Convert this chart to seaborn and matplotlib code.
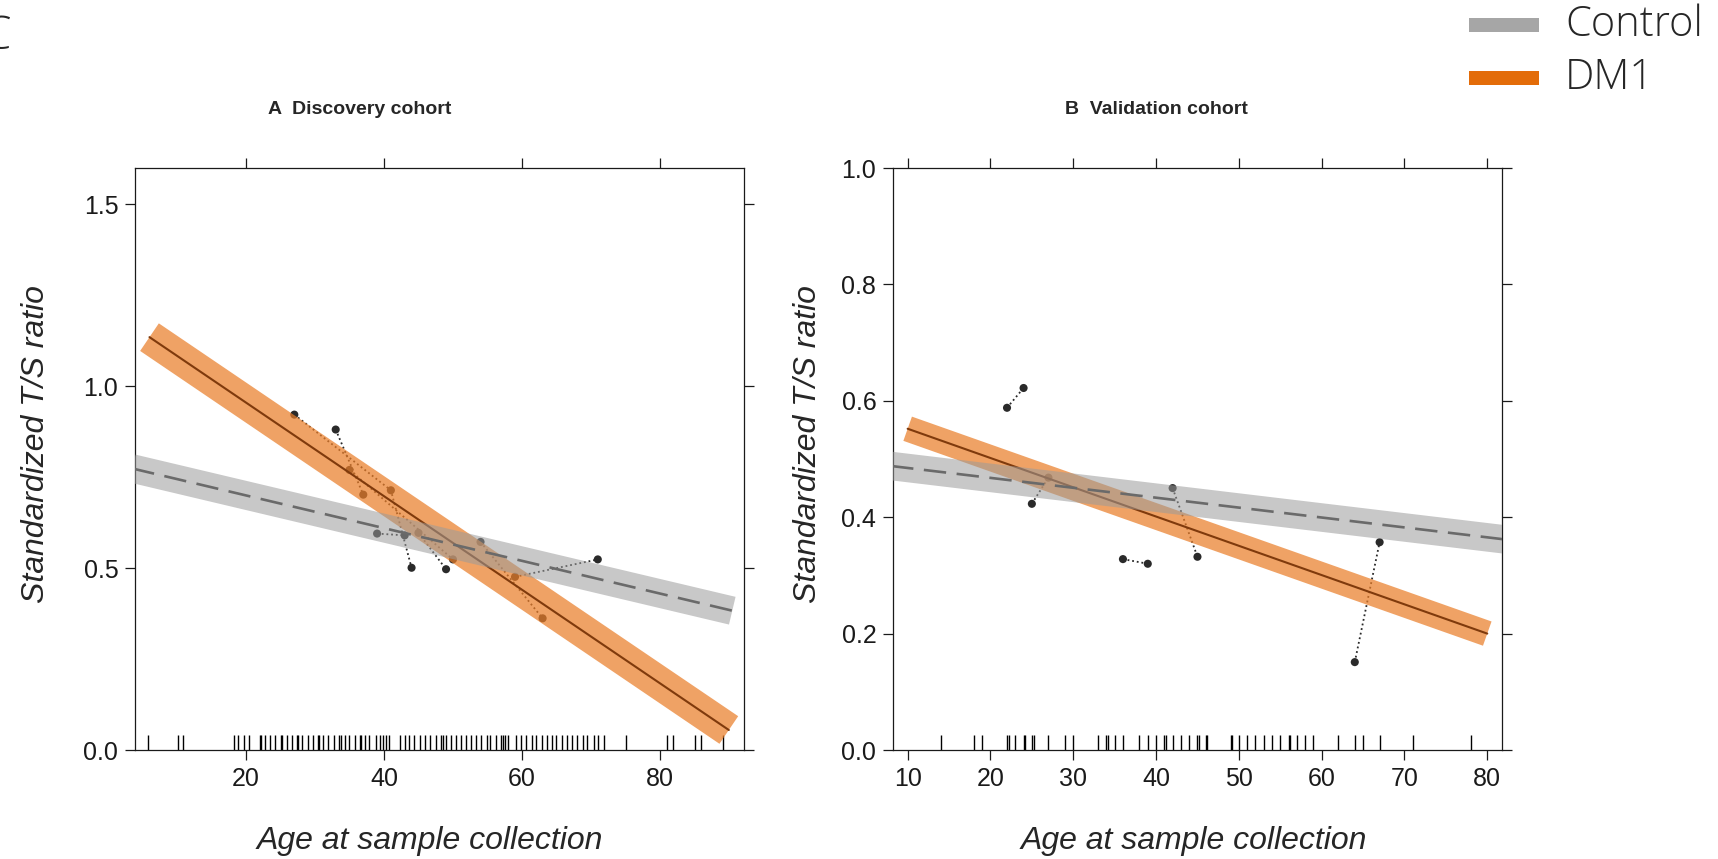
import matplotlib.pyplot as plt
import seaborn as sns
from matplotlib.patches import Rectangle

# ---------------- data ----------------
# Panel A - discovery cohort
fit_age_a = [6, 90]
dm1_fit_a = [1.135, 0.055]
ctrl_age_a = [3.5, 90.5]
ctrl_fit_a = [0.774, 0.383]

# repeated samples of the same person share a "pair" id
pt_age_a = [27, 41, 44, 33, 37, 35, 50, 39, 43, 45, 49, 54, 63, 59, 71]
pt_ts_a = [0.922, 0.714, 0.501, 0.881, 0.702, 0.770, 0.524, 0.595, 0.590, 0.597,
           0.497, 0.572, 0.362, 0.476, 0.524]
pt_pair_a = [1, 1, 1, 2, 2, 3, 3, 4, 4, 5, 5, 6, 6, 7, 7]

rug_a = [5.8, 10.2, 10.9, 18.2, 18.9, 19.7, 20.4, 22.0, 22.2, 22.7, 23.5, 24.2, 25.0,
         25.2, 25.9, 26.6, 27.4, 27.6, 28.1, 29.0, 29.7, 30.4, 30.6, 31.1, 31.9, 32.7,
         33.5, 33.7, 34.3, 35.0, 35.8, 36.5, 36.7, 37.2, 37.9, 38.8, 39.4, 39.8, 40.3,
         40.8, 42.3, 43.0, 43.7, 44.4, 45.2, 46.0, 46.7, 47.5, 48.2, 48.5, 49.0, 49.7,
         50.4, 51.2, 51.9, 52.6, 53.3, 54.0, 54.9, 55.4, 56.2, 56.9, 57.3, 57.6, 58.0,
         59.1, 59.9, 60.6, 61.4, 62.1, 62.9, 63.6, 64.3, 65.0, 65.8, 66.5, 67.3, 68.0,
         68.8, 69.5, 70.4, 71.1, 71.9, 75.1, 81.0, 81.9, 85.1, 86.0, 89.2]

# Panel B - validation cohort
fit_age_b = [10, 80]
dm1_fit_b = [0.552, 0.200]
ctrl_age_b = [8, 82]
ctrl_fit_b = [0.488, 0.362]

pt_age_b = [22, 24, 25, 27, 36, 39, 42, 45, 64, 67]
pt_ts_b = [0.588, 0.622, 0.423, 0.468, 0.328, 0.320, 0.450, 0.332, 0.151, 0.357]
pt_pair_b = [1, 1, 2, 2, 3, 3, 4, 4, 5, 5]

rug_b = [14, 18, 19, 22, 22.2, 23, 24, 24.2, 25, 25.2, 27, 29, 30, 33, 34, 34.2, 35, 36,
         38, 39, 40, 41, 41.2, 42, 43, 44, 45, 45.2, 46, 46.2, 49, 49.2, 50, 51, 52, 53,
         54, 55, 56, 56.2, 57, 58, 59, 62, 64, 65, 67, 71, 78]

xticks_a = [20, 40, 60, 80]
yticks_a = [0.0, 0.5, 1.0, 1.5]
xticks_b = [10, 20, 30, 40, 50, 60, 70, 80]
yticks_b = [0.0, 0.2, 0.4, 0.6, 0.8, 1.0]

groups = ["Control", "DM1"]
group_colors = ["#A6A6A6", "#E36C09"]

# ---------------- style ----------------
sns.set_style("ticks")
plt.rcParams["font.family"] = ["Liberation Sans", "DejaVu Sans"]
plt.rcParams["axes.linewidth"] = 0.9

ORANGE = "#EA7E29"
GREY = "#9B9B9B"
LEG_FONT = ["Open Sans", "DejaVu Sans"]

fig = plt.figure(figsize=(17.18, 8.59), dpi=100)
ax_a = fig.add_axes([135 / 1718, 109 / 859, 609 / 1718, 582 / 859])
ax_b = fig.add_axes([893 / 1718, 109 / 859, 609 / 1718, 582 / 859])


def draw_panel(ax, fit_age, dm1_fit, ctrl_age, ctrl_fit, ages, ts, pairs, rug, dm1_lw):
    sns.rugplot(x=rug, height=0.025, color="black", lw=1.8, ax=ax,
                expand_margins=False, zorder=2)
    sns.lineplot(x=ages, y=ts, units=pairs, estimator=None, sort=False, ax=ax,
                 color="#2a2a2a", lw=1.3, linestyle=(0, (1, 1.6)), zorder=3)
    sns.scatterplot(x=ages, y=ts, color="#2a2a2a", s=34, edgecolor="none",
                    ax=ax, zorder=4)
    # DM1 fit with band
    sns.lineplot(x=fit_age, y=dm1_fit, color=ORANGE, alpha=0.72, lw=dm1_lw,
                 solid_capstyle="butt", ax=ax, zorder=5)
    sns.lineplot(x=fit_age, y=dm1_fit, color="#7F3A0C", lw=1.5, ax=ax, zorder=6)
    # Control fit with band
    sns.lineplot(x=ctrl_age, y=ctrl_fit, color=GREY, alpha=0.55, lw=20.5,
                 solid_capstyle="butt", ax=ax, zorder=7)
    sns.lineplot(x=ctrl_age, y=ctrl_fit, color="#6A6A6A", lw=1.9,
                 linestyle=(0, (8.5, 4)), ax=ax, zorder=8)


draw_panel(ax_a, fit_age_a, dm1_fit_a, ctrl_age_a, ctrl_fit_a, pt_age_a, pt_ts_a,
           pt_pair_a, rug_a, 24.0)
draw_panel(ax_b, fit_age_b, dm1_fit_b, ctrl_age_b, ctrl_fit_b, pt_age_b, pt_ts_b,
           pt_pair_b, rug_b, 18.5)

for ax, xt, yt, xl, yl in [(ax_a, xticks_a, yticks_a, (3.9, 92.2), (0, 1.6)),
                           (ax_b, xticks_b, yticks_b, (8.23, 81.78), (0, 1.0))]:
    ax.set_xlim(*xl)
    ax.set_ylim(*yl)
    ax.set_xticks(xt)
    ax.set_xticklabels([str(v) for v in xt])
    ax.set_yticks(yt)
    ax.set_yticklabels([f"{v:.1f}" for v in yt])
    ax.tick_params(direction="out", length=7, width=0.9, top=True, right=True,
                   labeltop=False, labelright=False, labelsize=18,
                   colors="#1a1a1a", pad=5)
    for s in ax.spines.values():
        s.set_visible(True)
        s.set_color("#1a1a1a")
    ax.set_xlabel("")
    ax.set_ylabel("")

# titles and axis labels
fig.text(360 / 1718, 1 - 110 / 859, "A  Discovery cohort", ha="center", va="center",
         fontsize=14, fontweight="bold")
fig.text(1156 / 1718, 1 - 110 / 859, "B  Validation cohort", ha="center", va="center",
         fontsize=14, fontweight="bold")
for xc in [430 / 1718, 1194 / 1718]:
    fig.text(xc, 1 - 841 / 859, "Age at sample collection", ha="center", va="center",
             fontsize=23, style="italic")
for xc in [36 / 1718, 808 / 1718]:
    fig.text(xc, 1 - 444 / 859, "Standardized T/S ratio", ha="center", va="center",
             fontsize=23, style="italic", rotation=90)

fig.text(-18 / 1718, 1 - 37 / 859, "C", ha="left", va="center", fontsize=33,
         family=LEG_FONT, fontweight="light")

# legend, drawn as figure patches + text
leg_rows = [1 - 25 / 859, 1 - 78 / 859]
for g, c, yc in zip(groups, group_colors, leg_rows):
    fig.add_artist(Rectangle((1469 / 1718, yc - 7 / 859), 70 / 1718, 14 / 859,
                             transform=fig.transFigure, facecolor=c, edgecolor="none"))
    fig.text(1565 / 1718, yc, g, ha="left", va="center", fontsize=30,
             family=LEG_FONT, fontweight="light")

fig.savefig("out.png", dpi=100)
